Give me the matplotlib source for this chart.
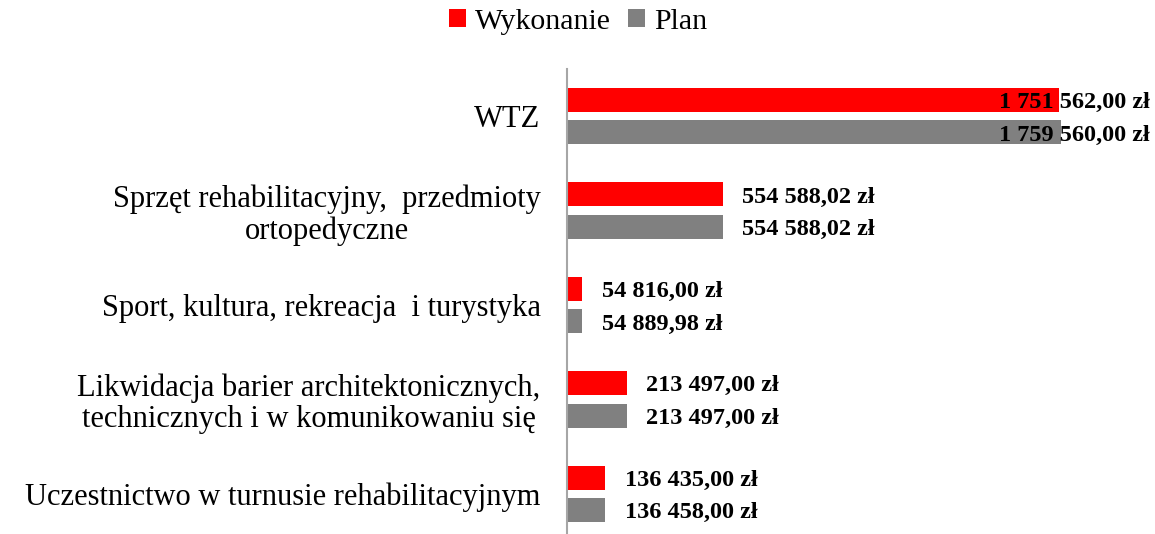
import numpy as np
import matplotlib.pyplot as plt

# dane
kategorie = [
    "WTZ",
    "Sprzęt rehabilitacyjny,  przedmioty\nortopedyczne",
    "Sport, kultura, rekreacja  i turystyka",
    "Likwidacja barier architektonicznych,\ntechnicznych i w komunikowaniu się",
    "Uczestnictwo w turnusie rehabilitacyjnym",
]
wykonanie = [1751562.00, 554588.02, 54816.00, 213497.00, 136435.00]
plan = [1759560.00, 554588.02, 54889.98, 213497.00, 136458.00]


def format_zl(v):
    calk = int(v)
    gr = int(round((v - calk) * 100))
    s = f"{calk:,}".replace(",", " ")
    return f"{s},{gr:02d} zł"


plt.rcParams["font.family"] = ["Liberation Serif", "DejaVu Serif"]

fig = plt.figure(figsize=(11.55, 5.34), dpi=100)
ax = fig.add_axes([567 / 1155, -7 / 534, 588 / 1155, 472 / 534])

y = np.arange(len(kategorie))
h = 0.254
off = 0.172
ax.barh(y - off, wykonanie, height=h, color="#ff0000", label="Wykonanie")
ax.barh(y + off, plan, height=h, color="#808080", label="Plan")

ax.set_xlim(0, 2.094e6)
ax.set_ylim(4.5, -0.5)
ax.set_yticks(y)
ax.set_yticklabels(kategorie, fontsize=22, multialignment="center", linespacing=1.1)
ax.tick_params(axis="y", length=0, pad=19)
ax.set_xticks([])
for s in ["top", "right", "bottom"]:
    ax.spines[s].set_visible(False)
ax.spines["left"].set_color("#a6a6a6")
ax.spines["left"].set_linewidth(1.5)

# etykiety wartosci
for i in range(len(kategorie)):
    for val, dy in [(wykonanie[i], -off), (plan[i], off)]:
        if i == 0:
            ax.annotate(format_zl(val), xy=(1.0, y[i] + dy), xycoords=("axes fraction", "data"),
                        xytext=(-4, -2), textcoords="offset points",
                        ha="right", va="center", fontsize=17.5, fontweight="bold")
        else:
            ax.annotate(format_zl(val), xy=(val, y[i] + dy),
                        xytext=(14, -2), textcoords="offset points",
                        ha="left", va="center", fontsize=17.5, fontweight="bold")

fig.legend(loc="center", bbox_to_anchor=(578 / 1155, 1 - 22 / 534), ncol=2, frameon=False,
           fontsize=21.5, handlelength=0.55, handleheight=0.55, handletextpad=0.3, columnspacing=0.6)

fig.savefig("out.png", dpi=100)
